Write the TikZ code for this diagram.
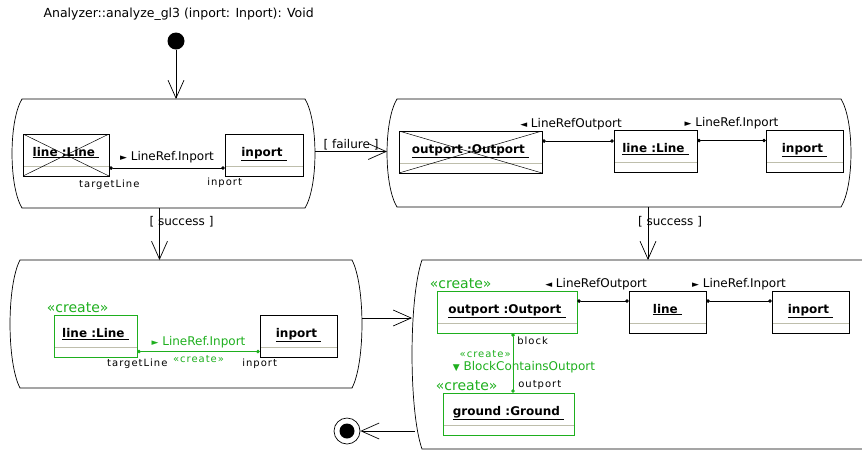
\documentclass[tikz,border=0pt]{standalone}
\usepackage{fontspec}
\setmainfont{DejaVu Sans}
\newfontfamily\rolefont[LetterSpace=10]{DejaVu Sans}
\usetikzlibrary{arrows.meta,calc}
\definecolor{createcol}{RGB}{30,175,30}
\definecolor{sepgray}{RGB}{190,190,172}

\newcommand{\objtitle}[1]{\underline{#1\ }}
\newcommand{\toright}{{\fontsize{9}{9}\selectfont ►}}
\newcommand{\toleft}{{\fontsize{9}{9}\selectfont ◄}}
\newcommand{\todown}{{\fontsize{9}{9}\selectfont ▼}}
% gray line between name and attribute part of an object
\newcommand{\objsep}{\draw[sepgray, line width=0.9pt]
  ([yshift=10pt]path picture bounding box.south west) --
  ([yshift=10pt]path picture bounding box.south east);}
% activity outline with bowed left and right sides
\newcommand{\actstate}[1]{%
  \draw[line width=0.7pt] ([xshift=10pt]#1.north west) -- ([xshift=-10pt]#1.north east)
    .. controls ($(#1.north east)!.2!(#1.south east)+(3.3,0)$)
       and ($(#1.north east)!.8!(#1.south east)+(3.3,0)$) .. ([xshift=-10pt]#1.south east)
    -- ([xshift=10pt]#1.south west)
    .. controls ($(#1.north west)!.8!(#1.south west)+(-3.3,0)$)
       and ($(#1.north west)!.2!(#1.south west)+(-3.3,0)$) .. cycle;}

\tikzset{
  state/.style={inner sep=0pt, outer sep=0pt},
  obj/.style={draw, line width=0.7pt, inner sep=0pt, minimum height=42pt,
    text height=10pt, text depth=8pt, font=\fontsize{12}{14}\selectfont\bfseries,
    path picture={\objsep}},
  deleted/.style={obj, path picture={\objsep
    \draw[line width=0.5pt] (path picture bounding box.north west) -- (path picture bounding box.south east)
      (path picture bounding box.south west) -- (path picture bounding box.north east);}},
  created/.style={obj, draw=createcol,
    label={[stereo, anchor=south west, xshift=-7pt, yshift=2pt]north west:«create»}},
  stereo/.style={createcol, font=\fontsize{14}{16}\selectfont, inner sep=0pt},
  smallstereo/.style={createcol, font=\rolefont\fontsize{10}{12}\selectfont, inner sep=0pt},
  link/.style={line width=0.7pt, {Circle[length=3.5pt]}-{Circle[length=3.5pt]}},
  newlink/.style={link, createcol},
  linklabel/.style={font=\fontsize{12}{14}\selectfont, inner sep=0pt},
  role/.style={text=black, font=\rolefont\fontsize{10}{12}\selectfont, inner sep=0pt},
  guard/.style={font=\fontsize{12}{14}\selectfont, inner sep=0pt},
  trans/.style={line width=0.7pt, -{Straight Barb[length=18pt, width=16pt]}},
  initial/.style={circle, fill, minimum size=17pt, inner sep=0pt},
  final/.style={circle, draw, line width=0.7pt, minimum size=26pt, inner sep=0pt,
    path picture={\fill (path picture bounding box.center) circle (7.5pt);}}
}

\begin{document}
\begin{tikzpicture}[x=1pt, y=-1pt]
  \useasboundingbox (0,0) rectangle (862,451);
  \clip (0,0) rectangle (862,451);
  \node[anchor=west, font=\fontsize{12.5}{14}\selectfont] (title) at (40,14)
    {Analyzer::analyze\_gl3 (inport: Inport): Void};
  \node[initial] (init) at (176,41) {};
  \node[final] (final) at (347,431) {};

  % activities
  \node[state, minimum width=303pt, minimum height=109pt] (s1) at (163.5,153.5) {};
  \node[state, minimum width=464pt, minimum height=108pt] (s2) at (619,153) {};
  \node[state, minimum width=352pt, minimum height=128pt] (s3) at (186,324) {};
  \node[state, minimum width=466pt, minimum height=189pt] (s4) at (645,354.5) {};
  \foreach \s in {s1,s2,s3,s4} {\actstate{\s}}

  % first check: line to inport
  \node[deleted, minimum width=86pt] (l1) at (66,155) {\objtitle{line :Line}};
  \node[obj, minimum width=78pt] (i1) at (264,155) {\objtitle{inport}};
  \draw[link] ([yshift=-13pt]l1.east) -- ([yshift=-13pt]l1.east -| i1.west)
    node[linklabel, midway, above=5pt] {\toright\ LineRef.Inport}
    node[role, at start, below=12pt] {targetLine}
    node[role, at end, below=10pt] {inport};

  % second check: outport, line, inport
  \node[deleted, minimum width=143pt] (o2) at (470.5,152) {\objtitle{outport :Outport}};
  \node[obj, minimum width=83pt] (l2) at (655.5,151.5) {\objtitle{line :Line}};
  \node[obj, minimum width=77pt] (i2) at (804.5,151) {\objtitle{inport}};
  \draw[link] ([yshift=11pt]o2.east) -- ([yshift=11pt]o2.east -| l2.west)
    node[linklabel, midway, above=11pt, xshift=-7pt] {\toleft\ LineRefOutport};
  \draw[link] ([yshift=11pt]l2.east) -- ([yshift=11pt]l2.east -| i2.west)
    node[linklabel, midway, above=11pt] {\toright\ LineRef.Inport};

  % create the line
  \node[created, minimum width=83pt] (cl3) at (95.5,336.5) {\objtitle{line :Line}};
  \node[obj, minimum width=77pt] (i3) at (298.5,336.5) {\objtitle{inport}};
  \draw[newlink] ([yshift=-15pt]cl3.east) -- ([yshift=-15pt]cl3.east -| i3.west)
    node[linklabel, midway, above=3pt] {\toright\ LineRef.Inport}
    node[smallstereo, midway, below=4pt] {«create»}
    node[role, at start, below=7pt] {targetLine}
    node[role, at end, below=7pt] {inport};

  % create outport and ground
  \node[created, minimum width=140pt] (co4) at (507,312) {\objtitle{outport :Outport}};
  \node[obj, minimum width=77pt] (l4) at (667.5,312) {\objtitle{line}};
  \node[obj, minimum width=77pt] (i4) at (810.5,312) {\objtitle{inport}};
  \node[created, minimum width=131pt] (g4) at (508.5,414) {\objtitle{ground :Ground}};
  \draw[link] ([yshift=11pt]co4.east) -- ([yshift=11pt]co4.east -| l4.west)
    node[linklabel, midway, above=11pt, xshift=-7pt] {\toleft\ LineRefOutport};
  \draw[link] ([yshift=11pt]l4.east) -- ([yshift=11pt]l4.east -| i4.west)
    node[linklabel, midway, above=11pt] {\toright\ LineRef.Inport};
  \draw[newlink] ([xshift=6pt]co4.south) -- ([xshift=6pt]co4.south |- g4.north)
    node[role, at start, anchor=north west, xshift=4pt, yshift=-3pt] {block}
    node[role, at end, anchor=base west, xshift=5pt, yshift=5pt] {outport}
    node[smallstereo, midway, anchor=east, xshift=-2pt, yshift=9pt] {«create»}
    node[linklabel, midway, xshift=11pt, yshift=-4pt] {\todown\ BlockContainsOutport};

  % transitions
  \draw[trans] (init) -- (init |- s1.north);
  \draw[trans] ([yshift=2pt]s1.east) -- ([yshift=2pt]s1.east -| s2.west)
    node[guard, midway, above=1pt] {[ failure ]};
  \draw[trans] ([xshift=-4pt]s1.south) -- ([xshift=-4pt]s1.south |- s3.north)
    node[guard, pos=0.27, xshift=22pt] {[ success ]};
  \draw[trans] ([xshift=29pt]s2.south) -- ([xshift=29pt]s2.south |- s4.north)
    node[guard, pos=0.27, xshift=22pt] {[ success ]};
  \draw[trans] ([yshift=6pt]s3.east) -- ([yshift=6pt]s3.east -| s4.west);
  \draw[trans] ($(final -| s4.west)+(3,0)$) -- (final);
\end{tikzpicture}
\end{document}
